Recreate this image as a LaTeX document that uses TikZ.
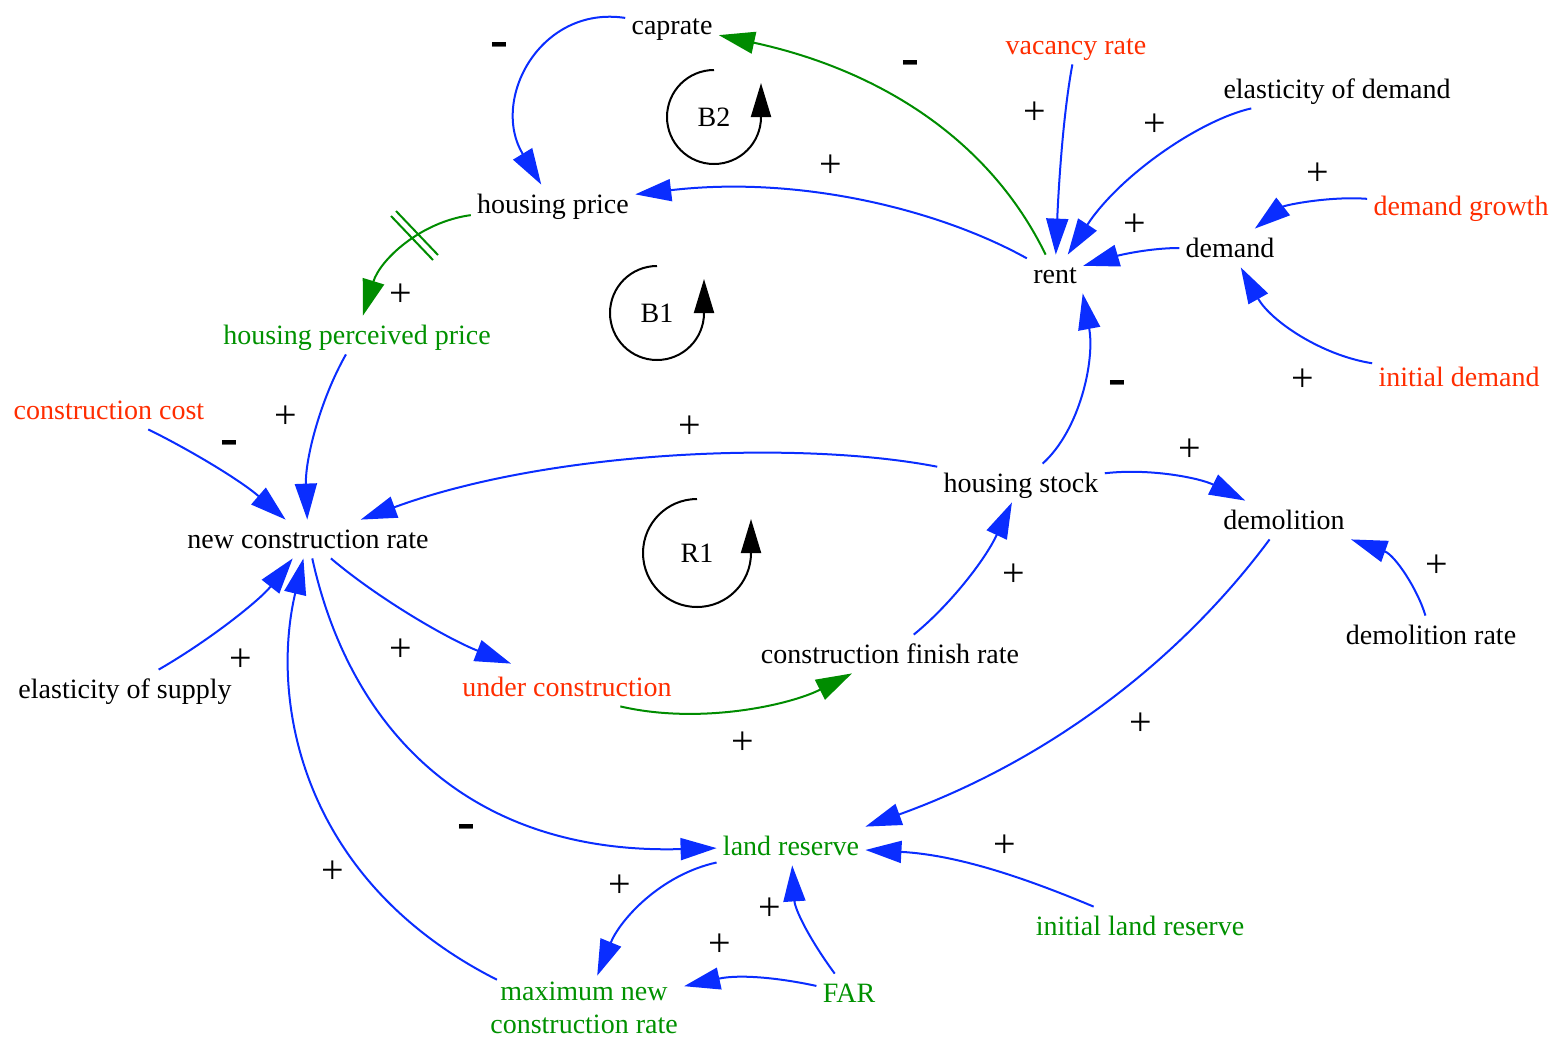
\documentclass[tikz,border=0pt]{standalone}
\usepackage{fontspec}
\setmainfont{Liberation Serif}
\usetikzlibrary{arrows.meta}
\definecolor{lnkblue}{RGB}{10,45,255}
\definecolor{lnkgreen}{RGB}{0,140,0}
\definecolor{txtred}{RGB}{255,45,0}
\definecolor{txtgreen}{RGB}{0,145,0}
\begin{document}
\begin{tikzpicture}[x=0.5pt,y=-0.5pt,
  var/.style={font=\fontsize{14}{16.5}\selectfont, inner sep=3pt, text height=11pt, text depth=2pt},
  var2/.style={font=\fontsize{14}{16.5}\selectfont, inner sep=3pt, align=center},
  redv/.style={text=txtred},
  grnv/.style={text=txtgreen},
  link/.style={draw=lnkblue, line width=1pt, -{Triangle[length=18pt,width=11pt]}},
  glink/.style={link, draw=lnkgreen},
  pol/.style={font=\fontsize{20}{20}\selectfont, inner sep=0pt, yshift=-1.5pt},
  neg/.style={font=\bfseries\fontsize{27}{27}\selectfont, inner sep=0pt, yshift=-1.5pt},
  loopline/.style={line width=1pt, -{Triangle[length=17pt,width=10pt]}},
  looplbl/.style={font=\fontsize{14}{16}\selectfont, inner sep=0pt}
]
\useasboundingbox (0,0) rectangle (1562,1039);

% variables
\node[var] (caprate) at (672,25) {caprate};
\node[var,redv] (vacancy) at (1076,45) {vacancy rate};
\node[var] (elastd) at (1337,89) {elasticity of demand};
\node[var] (hprice) at (553,204) {housing price};
\node[var,redv] (dgrowth) at (1461,206) {demand growth};
\node[var] (demand) at (1230,248) {demand};
\node[var] (rent) at (1055,274) {rent};
\node[var,grnv] (hpp) at (357,335) {housing perceived price};
\node[var,redv] (idemand) at (1459,377) {initial demand};
\node[var,redv] (ccost) at (109,410) {construction cost};
\node[var] (hstock) at (1021,483) {housing stock};
\node[var] (demol) at (1284,520) {demolition};
\node[var] (ncr) at (308,539) {new construction rate};
\node[var] (cfr) at (890,654) {construction finish rate};
\node[var] (demolr) at (1431,635) {demolition rate};
\node[var] (esupply) at (125,689) {elasticity of supply};
\node[var,redv] (ucon) at (567,687) {under construction};
\node[var,grnv] (lres) at (791,846) {land reserve};
\node[var,grnv] (ilres) at (1140,926) {initial land reserve};
\node[var,grnv] (FAR) at (849,993) {FAR};
\node[var2,grnv] (maxn) at (584,1008) {maximum new\\construction rate};

% loops
\node[looplbl] (B2) at (714,117) {B2};
\draw[loopline] (714,70) arc[start angle=-90, end angle=-360, radius=47] -- ++(0,-34);
\node[looplbl] (B1) at (657,313) {B1};
\draw[loopline] (657,266) arc[start angle=-90, end angle=-360, radius=47] -- ++(0,-34);
\node[looplbl] (R1) at (697,553) {R1};
\draw[loopline] (697,499) arc[start angle=-90, end angle=-360, radius=54] -- ++(0,-34);

% connectors
\draw[link] (caprate) .. controls (540,5) and (490,100) .. (hprice);
\draw[glink] (rent) .. controls (990,140) and (880,70) .. (caprate);
\draw[link] (rent) .. controls (940,210) and (800,175) .. (hprice);
\draw[link] (vacancy) .. controls (1062,120) and (1058,200) .. (rent);
\draw[link] (elastd) .. controls (1200,120) and (1120,175) .. (rent);
\draw[link] (demand) .. controls (1150,248) and (1120,255) .. (rent);
\draw[link] (dgrowth) .. controls (1330,196) and (1285,205) .. (demand);
\draw[link] (idemand) .. controls (1320,355) and (1270,320) .. (demand);
\draw[link] (hstock) .. controls (1080,430) and (1095,360) .. (rent.-35);
\draw[glink] (hprice) .. controls (420,222) and (380,260) .. (hpp);
\draw[lnkgreen, line width=1pt] (396,211) -- (438,255) (391,216) -- (433,260);
\draw[link] (hpp) .. controls (320,400) and (305,460) .. (ncr);
\draw[link] (ccost) .. controls (190,450) and (240,480) .. (ncr);
\draw[link] (hstock) .. controls (800,440) and (550,450) .. (ncr);
\draw[link] (hstock) .. controls (1150,468) and (1200,478) .. (demol);
\draw[link] (demolr) .. controls (1418,590) and (1395,555) .. (demol.south east);
\draw[link] (cfr) .. controls (950,605) and (985,560) .. (hstock);
\draw[link] (esupply) .. controls (210,640) and (260,600) .. (ncr);
\draw[link] (ncr) .. controls (380,600) and (450,640) .. ([shift={(55,-4)}]ucon.north west);
\draw[glink] (ucon.-20) .. controls (700,725) and (790,705) .. (cfr);
\draw[link] (ncr) .. controls (350,730) and (470,855) .. (lres);
\draw[link] ([shift={(13,4)}]maxn.north west) .. controls (300,880) and (270,700) .. (ncr);
\draw[link] (demol) .. controls (1180,660) and (1050,760) .. (lres.north east);
\draw[link] (ilres) .. controls (1030,880) and (960,855) .. (lres);
\draw[link] (lres) .. controls (660,875) and (620,920) .. (maxn);
\draw[link] (FAR) .. controls (810,940) and (795,910) .. (lres);
\draw[link] (FAR) .. controls (780,978) and (740,974) .. (maxn);

% polarities
\node[neg] (s1) at (499,47) {-};
\node[neg] (s2) at (910,65) {-};
\node[pol] (s3) at (1035,110) {+};
\node[pol] (s4) at (1155,122) {+};
\node[pol] (s5) at (831,163) {+};
\node[pol] (s6) at (1318,171) {+};
\node[pol] (s7) at (1135,222) {+};
\node[pol] (s8) at (401,292) {+};
\node[pol] (s9) at (1303,377) {+};
\node[neg] (s10) at (1117,385) {-};
\node[pol] (s11) at (286,414) {+};
\node[neg] (s12) at (229,445) {-};
\node[pol] (s13) at (690,424) {+};
\node[pol] (s14) at (1190,447) {+};
\node[pol] (s15) at (1437,563) {+};
\node[pol] (s16) at (1014,572) {+};
\node[pol] (s17) at (241,657) {+};
\node[pol] (s18) at (401,647) {+};
\node[pol] (s19) at (743,740) {+};
\node[pol] (s20) at (1141,721) {+};
\node[neg] (s21) at (466,829) {-};
\node[pol] (s22) at (1005,843) {+};
\node[pol] (s23) at (620,883) {+};
\node[pol] (s24) at (770,906) {+};
\node[pol] (s25) at (720,942) {+};
\node[pol] (s26) at (333,869) {+};
\end{tikzpicture}
\end{document}
